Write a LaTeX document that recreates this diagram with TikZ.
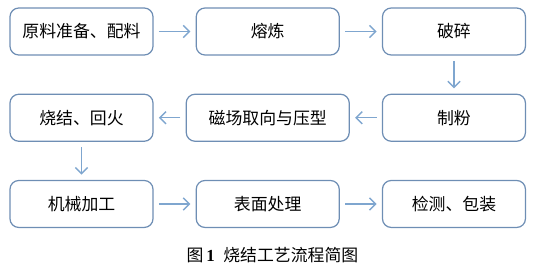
\documentclass[tikz,border=0pt]{standalone}
\usepackage{fontspec}
\setmainfont{Liberation Serif}
\newfontfamily\cjk{Noto Sans CJK SC}
\usetikzlibrary{arrows.meta,positioning}
\definecolor{boxcolor}{HTML}{6E8EB4}
\definecolor{arrowcolor}{HTML}{7FA6CF}

\begin{document}
\begin{tikzpicture}[
  node distance=0.76cm and 0.84cm,
  box/.style={rectangle,rounded corners=5pt,draw=boxcolor,line width=0.7pt,minimum height=0.94cm,minimum width=2.86cm,align=center,font=\cjk\fontsize{9.6}{11}\selectfont},
  arr/.style={-{Straight Barb[length=3.5pt,width=7pt]},draw=arrowcolor,line width=0.8pt,shorten <=3pt,shorten >=3pt},
  caption/.style={font=\cjk\fontsize{9.6}{11}\selectfont}
]
\useasboundingbox (0,0) rectangle (10.66,-5.5);

\node[box] (raw) at (1.63,-0.63) {原料准备、配料};
\node[box,right=of raw] (melt) {熔炼};
\node[box,right=of melt] (crush) {破碎};

\node[box,below=of crush] (powder) {制粉};
\node[box,below=of melt,minimum width=3.26cm] (press) {磁场取向与压型};
\node[box,below=of raw] (sinter) {烧结、回火};

\node[box,below=of sinter] (machine) {机械加工};
\node[box,below=of press,minimum width=2.86cm] (surface) {表面处理};
\node[box,below=of powder] (check) {检测、包装};

\draw[arr] (raw) -- (melt);
\draw[arr] (melt) -- (crush);
\draw[arr] (crush) -- (powder);
\draw[arr] (powder) -- (press);
\draw[arr] (press) -- (sinter);
\draw[arr] (sinter) -- (machine);
\draw[arr] (machine) -- (surface);
\draw[arr] (surface) -- (check);

\node[caption] (title) at (5.45,-5.1) {图\,{\rmfamily\bfseries 1}\enspace 烧结工艺流程简图};
\end{tikzpicture}
\end{document}
